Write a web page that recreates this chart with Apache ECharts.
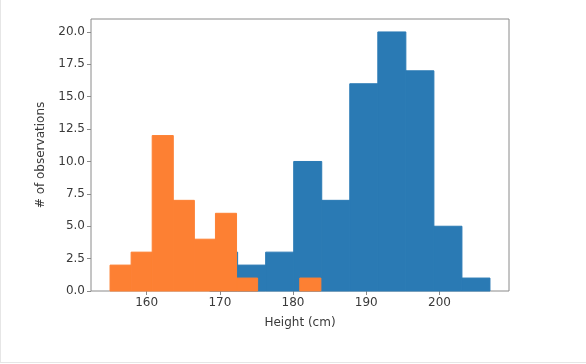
<html lang="en">
<head>
    <meta charset="UTF-8">
    <title>height histogram</title>
    <style>
        body { margin: 0; background: #fff; }
        #frame { position: absolute; left: 0; top: 0; width: 585px; height: 362px;
                 border-left: 1px solid #e6e6e6; border-bottom: 1px solid #e6e6e6; pointer-events: none; }
    </style>
</head>
<body>
    <div id="container" style="position:absolute;left:0;top:0;width:586px;height:364px"></div>
    <div id="frame"></div>

    <script src="https://cdn.jsdelivr.net/npm/echarts@6/dist/echarts.min.js"></script>
    <script>
        // bin edges and counts
        var blueEdges = [168.6, 172.43, 176.26, 180.09, 183.92, 187.75, 191.58, 195.41, 199.24, 203.07, 206.9];
        var blueCounts = [3, 2, 3, 10, 7, 16, 20, 17, 5, 1];
        var orangeEdges = [155.0, 157.88, 160.76, 163.64, 166.52, 169.4, 172.28, 175.16, 178.04, 180.92, 183.8];
        var orangeCounts = [2, 3, 12, 7, 4, 6, 1, 0, 0, 1];
        var xTicks = [160, 170, 180, 190, 200];
        var yTicks = [0, 2.5, 5, 7.5, 10, 12.5, 15, 17.5, 20];

        function bins(edges, counts) {
            var out = [];
            for (var i = 0; i < counts.length; i++) {
                out.push([edges[i], edges[i + 1], counts[i]]);
            }
            return out;
        }

        function renderBin(params, api) {
            var p0 = api.coord([api.value(0), api.value(2)]);
            var p1 = api.coord([api.value(1), 0]);
            var c = api.visual('color');
            return {
                type: 'rect',
                shape: { x: p0[0], y: p0[1], width: p1[0] - p0[0], height: p1[1] - p0[1] },
                style: { fill: c, stroke: api.value(2) > 0 ? c : null, lineWidth: 1 }
            };
        }

        var myChart = echarts.init(document.getElementById('container'));
        var axisColor = '#8a8a8a';
        var textColor = '#3a3a3a';
        var option = {
            backgroundColor: '#fff',
            animation: false,
            textStyle: { fontFamily: 'DejaVu Sans' },
            grid: {
                left: 91, right: 77, top: 19, bottom: 73,
                show: true, borderColor: axisColor, borderWidth: 1
            },
            xAxis: {
                type: 'value',
                min: 152.4,
                max: 209.5,
                name: 'Height (cm)',
                nameLocation: 'middle',
                nameGap: 26,
                nameTextStyle: { color: textColor, fontSize: 12 },
                axisLine: { show: false },
                axisTick: { show: true, length: 4, lineStyle: { color: axisColor }, customValues: xTicks },
                axisLabel: { color: textColor, fontSize: 12, margin: 6, customValues: xTicks },
                splitLine: { show: false }
            },
            yAxis: {
                type: 'value',
                min: 0,
                max: 21,
                name: '# of observations',
                nameLocation: 'middle',
                nameGap: 44,
                nameTextStyle: { color: textColor, fontSize: 12 },
                axisLine: { show: false },
                axisTick: { show: true, length: 4, lineStyle: { color: axisColor }, customValues: yTicks },
                axisLabel: {
                    color: textColor, fontSize: 12, margin: 6, customValues: yTicks,
                    formatter: function (v) { return v.toFixed(1); }
                },
                splitLine: { show: false }
            },
            series: [{
                type: 'custom',
                name: 'blue',
                renderItem: renderBin,
                itemStyle: { color: '#2a7ab4' },
                encode: { x: [0, 1], y: 2 },
                data: bins(blueEdges, blueCounts)
            }, {
                type: 'custom',
                name: 'orange',
                renderItem: renderBin,
                itemStyle: { color: '#fd8033' },
                encode: { x: [0, 1], y: 2 },
                data: bins(orangeEdges, orangeCounts)
            }]
        };
        myChart.setOption(option);
    </script>
</body>
</html>
